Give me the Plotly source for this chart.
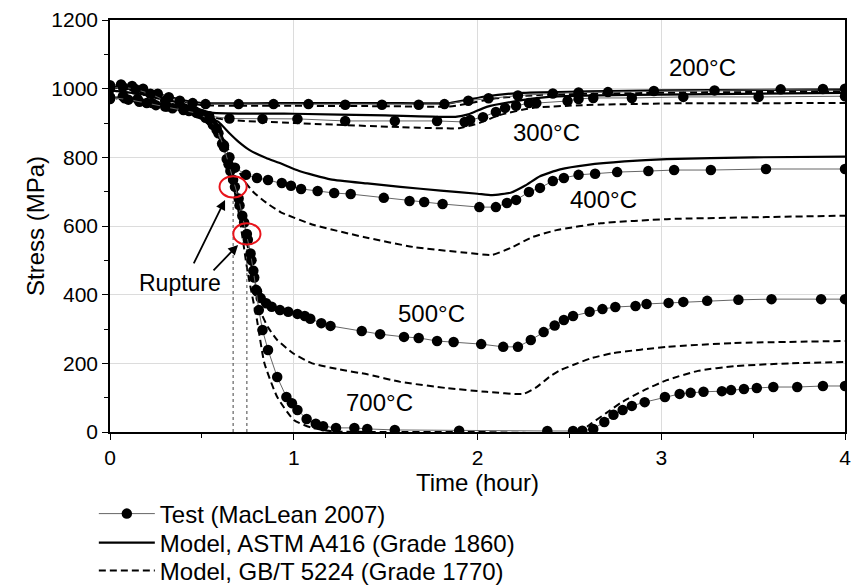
import plotly.graph_objects as go

# ---------------- data (time in hours, stress in MPa) ----------------
# Test (MacLean 2007)
t200_test = [0, 0.06, 0.12, 0.18, 0.26, 0.32, 0.38, 0.45, 0.52, 0.70, 0.89, 1.08, 1.28, 1.48, 1.68, 1.82,
             1.95, 2.06, 2.22, 2.41, 2.55, 2.71, 2.96, 3.29, 3.65, 3.88, 4.0]
s200_test = [1010, 1012, 1008, 1000, 985, 975, 965, 958, 955, 955, 955, 955, 953, 953, 953, 955,
             965, 972, 980, 986, 989, 990, 993, 995, 998, 999, 1000]

t300_test = [0, 0.07, 0.14, 0.22, 0.30, 0.38, 0.46, 0.54, 0.65, 0.83, 1.02, 1.28, 1.55, 1.78, 1.93, 1.96,
             2.03, 2.10, 2.15, 2.21, 2.28, 2.32, 2.49, 2.55, 2.63, 2.84, 3.12, 3.53, 4.0]
s300_test = [1000, 1005, 998, 985, 965, 950, 935, 920, 913, 912, 912, 906, 906, 906, 903, 909,
             917, 932, 944, 950, 958, 958, 964, 970, 973, 973, 976, 976, 978]

t400_test = [0, 0.07, 0.15, 0.23, 0.31, 0.40, 0.47, 0.52, 0.56, 0.59, 0.62, 0.65, 0.68, 0.74, 0.80, 0.86,
             0.935, 0.985, 1.04, 1.13, 1.22, 1.31, 1.49, 1.63, 1.71, 1.81, 2.01, 2.10, 2.16, 2.21, 2.28,
             2.34, 2.41, 2.47, 2.55, 2.64, 2.76, 2.93, 3.07, 3.27, 3.57, 4.0]
s400_test = [975, 978, 970, 958, 948, 940, 930, 915, 895, 870, 835, 800, 770, 749, 740, 734,
             725, 717, 708, 702, 696, 693, 682, 673, 670, 664, 655, 655, 667, 676, 699,
             711, 731, 740, 749, 752, 757, 760, 763, 763, 766, 766]

t500_test = [0, 0.08, 0.16, 0.25, 0.34, 0.43, 0.50, 0.55, 0.58, 0.61, 0.635, 0.655, 0.68, 0.705, 0.73,
             0.75, 0.77, 0.785, 0.80, 0.82, 0.85, 0.88, 0.925, 0.97, 1.02, 1.06, 1.09, 1.15, 1.20, 1.37,
             1.47, 1.60, 1.68, 1.78, 1.87, 2.02, 2.14, 2.22, 2.29, 2.36, 2.42, 2.47, 2.52, 2.61, 2.68,
             2.75, 2.86, 2.92, 3.04, 3.12, 3.25, 3.42, 3.60, 3.87, 4.0]
s500_test = [970, 972, 962, 952, 943, 935, 925, 905, 880, 840, 795, 760, 714, 660, 610,
             560, 500, 450, 410, 390, 375, 365, 355, 350, 344, 338, 330, 317, 309, 294,
             285, 277, 274, 265, 262, 256, 248, 248, 268, 291, 310, 326, 338, 350, 358,
             364, 367, 373, 376, 379, 382, 385, 387, 387, 387]

t700_test = [0, 0.10, 0.20, 0.30, 0.40, 0.48, 0.54, 0.58, 0.62, 0.645, 0.67, 0.70, 0.72, 0.745, 0.765,
             0.78, 0.795, 0.81, 0.83, 0.86, 0.91, 0.96, 0.99, 1.02, 1.07, 1.12, 1.16, 1.23, 1.33, 1.40,
             1.55, 1.90, 2.38, 2.52, 2.57, 2.63, 2.69, 2.74, 2.79, 2.84, 2.91, 3.02, 3.10, 3.16, 3.23,
             3.33, 3.38, 3.45, 3.52, 3.61, 3.74, 3.88, 4.0]
s700_test = [975, 968, 958, 948, 938, 928, 910, 885, 830, 780, 735, 680, 630, 577, 520,
             470, 414, 355, 297, 239, 160, 102, 84, 64, 38, 24, 17, 12, 12, 9,
             6, 4, 3, 3, 4, 9, 29, 50, 64, 76, 87, 102, 111, 114, 117,
             119, 122, 125, 128, 131, 131, 134, 134]

# Model, ASTM A416 (Grade 1860)
t200_astm = [0, 0.2, 0.4, 0.5, 1.0, 1.5, 1.85, 1.95, 2.05, 2.25, 2.6, 3.0, 4.0]
s200_astm = [1008, 992, 966, 958, 958, 958, 958, 968, 978, 988, 992, 995, 998]
t300_astm = [0, 0.2, 0.4, 0.55, 1.0, 1.5, 1.88, 1.95, 2.05, 2.18, 2.39, 2.85, 4.0]
s300_astm = [995, 982, 955, 930, 927, 922, 918, 925, 947, 961, 976, 982, 988]
t400_astm = [0, 0.2, 0.4, 0.52, 0.59, 0.65, 0.70, 0.76, 0.85, 0.92, 1.03, 1.2, 1.4, 1.58, 1.8, 2.0,
             2.08, 2.18, 2.26, 2.34, 2.45, 2.6, 2.8, 3.03, 3.5, 4.0]
s400_astm = [975, 962, 942, 922, 903, 870, 845, 821, 798, 784, 760, 736, 724, 714, 703, 694,
             690, 697, 718, 745, 765, 778, 788, 795, 800, 802]

# Model, GB/T 5224 (Grade 1770)
t200_gb = [0, 0.2, 0.4, 0.5, 1.0, 1.5, 1.85, 1.95, 2.1, 2.35, 3.0, 4.0]
s200_gb = [1005, 990, 962, 952, 950, 949, 948, 957, 972, 982, 988, 992]
t300_gb = [0, 0.2, 0.4, 0.6, 1.0, 1.58, 1.9, 2.01, 2.12, 2.30, 2.57, 3.03, 4.0]
s300_gb = [995, 980, 950, 912, 900, 888, 885, 900, 923, 944, 952, 957, 958]
t400_gb = [0, 0.2, 0.4, 0.5, 0.6, 0.65, 0.7, 0.74, 0.78, 0.85, 0.93, 1.11, 1.38, 1.65, 1.94, 2.08,
           2.18, 2.30, 2.43, 2.67, 3.03, 3.57, 4.0]
s400_gb = [975, 960, 940, 928, 870, 815, 760, 725, 699, 668, 640, 603, 568, 539, 522, 516,
           536, 568, 588, 608, 620, 626, 630]
t500_gb = [0, 0.2, 0.4, 0.5, 0.6, 0.65, 0.7, 0.76, 0.8, 0.82, 0.86, 0.91, 1.0, 1.1, 1.25, 1.4, 1.58,
           1.83, 2.05, 2.25, 2.32, 2.39, 2.45, 2.52, 2.62, 2.74, 3.03, 3.39, 4.0]
s500_gb = [975, 960, 940, 928, 860, 785, 680, 510, 400, 350, 305, 268, 228, 200, 182, 168, 146,
           128, 117, 111, 130, 160, 180, 195, 215, 230, 248, 259, 265]
t700_gb = [0, 0.2, 0.4, 0.5, 0.6, 0.65, 0.7, 0.75, 0.80, 0.84, 0.91, 1.0, 1.1, 1.21, 1.5, 2.0, 2.55,
           2.62, 2.7, 2.78, 2.9, 3.03, 3.2, 3.4, 3.7, 4.0]
s700_gb = [975, 960, 940, 928, 850, 770, 640, 463, 326, 201, 102, 35, 12, 2, 0, 0, 0,
           25, 55, 85, 120, 151, 178, 192, 200, 204]

temp_labels = ["200°C", "300°C", "400°C", "500°C", "700°C"]
label_t = [3.227, 2.378, 2.688, 1.752, 1.464]
label_s = [1063, 871, 676, 344, 85]

rupture_t = [0.67, 0.745]
rupture_s = [714, 577]

# ---------------- figure ----------------
FONT = "Liberation Sans, Arial, sans-serif"
fig = go.Figure()

tests = [(t200_test, s200_test), (t300_test, s300_test), (t400_test, s400_test),
         (t500_test, s500_test), (t700_test, s700_test)]
astm = [(t200_astm, s200_astm), (t300_astm, s300_astm), (t400_astm, s400_astm)]
gb = [(t200_gb, s200_gb), (t300_gb, s300_gb), (t400_gb, s400_gb), (t500_gb, s500_gb), (t700_gb, s700_gb)]

for i, (t, s) in enumerate(gb):
    fig.add_trace(go.Scatter(x=t, y=s, mode="lines", name="Model, GB/T 5224 (Grade 1770)",
                             legend="legend3", showlegend=(i == 0),
                             line=dict(color="black", width=2, dash="7px,4px", shape="spline", smoothing=0.5)))
for i, (t, s) in enumerate(astm):
    fig.add_trace(go.Scatter(x=t, y=s, mode="lines", name="Model, ASTM A416 (Grade 1860)",
                             legend="legend2", showlegend=(i == 0),
                             line=dict(color="black", width=2.2, shape="spline", smoothing=0.5)))

# rupture dotted lines
for rt, rs in zip(rupture_t, rupture_s):
    fig.add_trace(go.Scatter(x=[rt, rt], y=[0, rs - 30], mode="lines", showlegend=False,
                             hoverinfo="skip", line=dict(color="#444", width=1, dash="dot")))

for i, (t, s) in enumerate(tests):
    fig.add_trace(go.Scatter(x=t, y=s, mode="lines+markers", name="Test (MacLean 2007)",
                             legend="legend", showlegend=(i == 0),
                             line=dict(color="#666666", width=1),
                             marker=dict(color="black", size=10.5, line=dict(width=0))))

# rupture circles
for rt, rs in zip(rupture_t, rupture_s):
    fig.add_shape(type="circle", xref="x", yref="y",
                  x0=rt - 0.074, x1=rt + 0.074, y0=rs - 31, y1=rs + 31,
                  line=dict(color="#e8141b", width=2))

# temperature labels
for txt, lt, ls in zip(temp_labels, label_t, label_s):
    fig.add_annotation(x=lt, y=ls, text=txt, showarrow=False,
                       font=dict(family=FONT, size=24, color="black"))

# Rupture label and arrows
fig.add_annotation(x=0.38, y=434, text="Rupture", showarrow=False,
                   font=dict(family=FONT, size=23, color="black"))
fig.add_annotation(x=0.626, y=676, ax=-32, ay=65, text="", showarrow=True,
                   arrowhead=2, arrowsize=1.1, arrowwidth=1.8, arrowcolor="black")
fig.add_annotation(x=0.697, y=545, ax=-26, ay=27, text="", showarrow=True,
                   arrowhead=2, arrowsize=1.1, arrowwidth=1.8, arrowcolor="black")

axis_common = dict(showline=True, linecolor="black", linewidth=1.5, mirror=True,
                   ticks="outside", ticklen=6, tickwidth=1.3, tickcolor="black",
                   showgrid=True, gridcolor="#dcdcdc", gridwidth=1, zeroline=False,
                   tickfont=dict(family=FONT, size=21, color="black"))

fig.update_xaxes(range=[0, 4], dtick=1, tick0=0,
                 minor=dict(dtick=0.5, ticks="outside", ticklen=4, tickcolor="black", showgrid=False),
                 title=dict(text="Time (hour)", font=dict(family=FONT, size=24, color="black"), standoff=4),
                 **axis_common)
fig.update_yaxes(range=[0, 1200], dtick=200, tick0=0,
                 minor=dict(dtick=100, ticks="outside", ticklen=4, tickcolor="black", showgrid=False),
                 title=dict(text="Stress (MPa)", font=dict(family=FONT, size=24, color="black"), standoff=0),
                 **axis_common)

leg_common = dict(x=-0.022, xanchor="left", yanchor="middle",
                  font=dict(family=FONT, size=24, color="black"),
                  bgcolor="rgba(0,0,0,0)", itemwidth=56)
# legend rows centred at pixel rows 514, 543, 571 (plot spans 20..432)
fig.update_layout(
    width=854, height=587,
    margin=dict(l=110, r=9, t=20, b=155, autoexpand=False),
    plot_bgcolor="white", paper_bgcolor="white",
    font=dict(family=FONT, color="black"),
    legend=dict(y=(432 - 514) / 412, **leg_common),
    legend2=dict(y=(432 - 543) / 412, **leg_common),
    legend3=dict(y=(432 - 571) / 412, **leg_common),
)

fig.write_html("out.html")
